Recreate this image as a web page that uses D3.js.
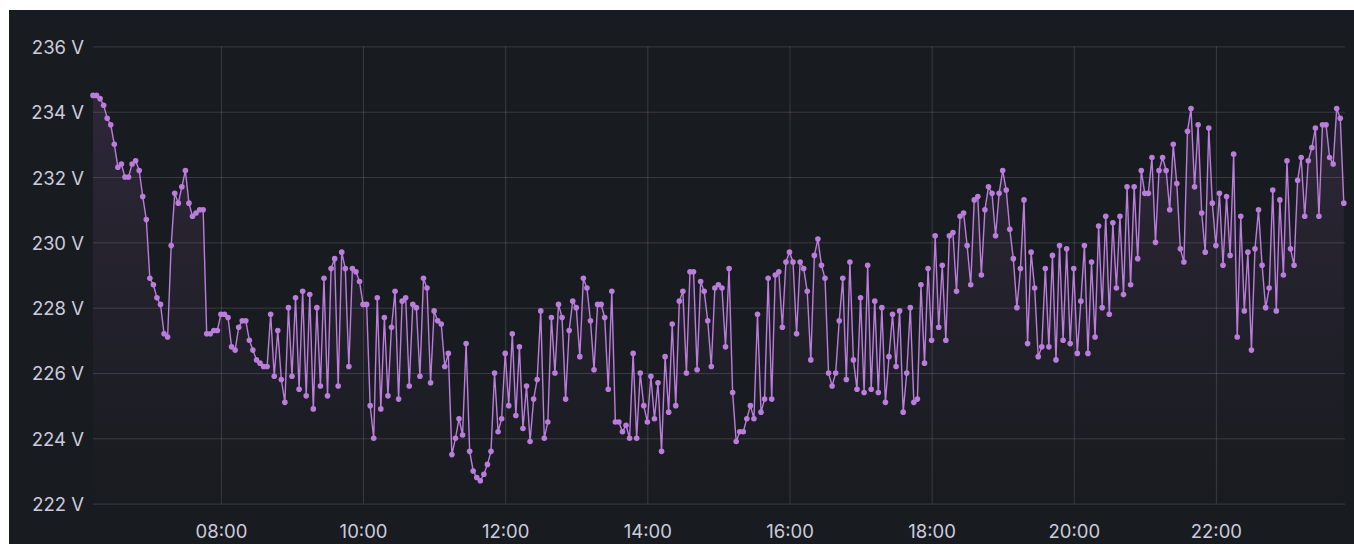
<!DOCTYPE html>
<html>
<head>
<meta charset="utf-8">
<script src="https://cdn.jsdelivr.net/npm/d3@7"></script>
<style>
html,body{margin:0;padding:0;background:#fff;}
svg{display:block;}
</style>
</head>
<body>
<div id="chart"></div>
<script>
(function(){
"use strict"
//---Voltage over the day---

var W = 1354, H = 544,
	panel = {left:9, top:10},
	plot = {left:93, right:1345, top:46.4, bottom:503.6};

// samples every 3 minutes, starting 06:12
var startTime = "06:12",
	stepMinutes = 3,
	domainTime = ["06:12","23:49"],
	yTicks = [222,224,226,228,230,232,234,236],
	yDomain = [222,236];

var volts = [
	234.5,234.5,234.4,234.2,233.8,233.6,233.0,232.3,232.4,232.0,
	232.0,232.4,232.5,232.2,231.4,230.7,228.9,228.7,228.3,228.1,
	227.2,227.1,229.9,231.5,231.2,231.7,232.2,231.2,230.8,230.9,
	231.0,231.0,227.2,227.2,227.3,227.3,227.8,227.8,227.7,226.8,
	226.7,227.4,227.6,227.6,227.0,226.7,226.4,226.3,226.2,226.2,
	227.8,225.9,227.3,225.8,225.1,228.0,225.9,228.3,225.5,228.5,
	225.3,228.4,224.9,228.0,225.6,228.9,225.3,229.2,229.5,225.6,
	229.7,229.2,226.2,229.2,229.1,228.8,228.1,228.1,225.0,224.0,
	228.3,224.9,227.7,225.3,227.4,228.5,225.2,228.2,228.3,225.6,
	228.1,228.0,225.9,228.9,228.6,225.7,227.9,227.6,227.5,226.2,
	226.6,223.5,224.0,224.6,224.1,226.9,223.6,223.0,222.8,222.7,
	222.9,223.2,223.6,226.0,224.2,224.6,226.6,225.0,227.2,224.7,
	226.8,224.3,225.6,223.9,225.2,225.8,227.9,224.0,224.5,227.7,
	226.0,228.1,227.7,225.2,227.3,228.2,228.0,226.5,228.9,228.6,
	227.6,226.1,228.1,228.1,227.7,225.5,228.5,224.5,224.5,224.2,
	224.4,224.0,226.6,224.0,226.0,225.0,224.5,225.9,224.6,225.7,
	223.6,226.5,224.8,227.5,225.0,228.2,228.5,226.0,229.1,229.1,
	226.1,228.8,228.5,227.6,226.2,228.6,228.7,228.6,226.8,229.2,
	225.4,223.9,224.2,224.2,224.6,225.0,224.6,227.8,224.8,225.2,
	228.9,225.2,229.0,229.1,227.4,229.4,229.7,229.4,227.2,229.4,
	229.2,228.5,226.4,229.6,230.1,229.3,228.9,226.0,225.6,226.0,
	227.6,228.9,225.8,229.4,226.4,225.5,228.3,225.4,229.3,225.5,
	228.2,225.4,228.0,225.1,226.5,227.8,226.2,227.9,224.8,226.0,
	228.0,225.1,225.2,228.7,226.3,229.2,227.0,230.2,227.4,229.3,
	227.0,230.2,230.3,228.5,230.8,230.9,229.9,228.7,231.3,231.4,
	229.0,231.0,231.7,231.5,230.2,231.5,232.2,231.6,230.4,229.5,
	228.0,229.2,231.3,226.9,229.7,228.6,226.5,226.8,229.2,226.8,
	229.6,226.4,229.9,227.0,229.8,226.9,229.2,226.6,228.2,229.9,
	226.6,229.4,227.1,230.5,228.0,230.8,227.8,230.6,228.6,230.8,
	228.4,231.7,228.7,231.7,229.5,232.2,231.5,231.5,232.6,230.0,
	232.2,232.6,232.2,231.0,233.0,231.8,229.8,229.4,233.4,234.1,
	231.7,233.6,230.9,229.7,233.5,231.2,229.9,231.5,229.3,231.4,
	229.6,232.7,227.1,230.8,227.9,229.7,226.7,229.8,231.0,229.3,
	228.0,228.6,231.6,227.9,231.3,229.0,232.5,229.8,229.3,231.9,
	232.6,230.8,232.5,232.9,233.5,230.8,233.6,233.6,232.6,232.4,
	234.1,233.8,231.2
];

var parseT = d3.timeParse("%Y-%m-%d %H:%M"),
	day = "2024-01-01 ",
	t0 = parseT(day+startTime);

var data = volts.map(function(v,i){
	return {t: d3.timeMinute.offset(t0, i*stepMinutes), v: v};
});

var x = d3.scaleTime()
	.domain(domainTime.map(function(s){return parseT(day+s);}))
	.range([plot.left, plot.right]);

var y = d3.scaleLinear()
	.domain(yDomain)
	.range([plot.bottom, plot.top]);

var svg = d3.select('#chart').append('svg')
	.attr('width',W)
	.attr('height',H);

svg.append('rect')
	.attr('x',panel.left)
	.attr('y',panel.top)
	.attr('width',W-panel.left)
	.attr('height',H-panel.top)
	.style('fill','#181b1f');

var grad = svg.append('defs').append('linearGradient')
	.attr('id','fillGrad')
	.attr('gradientUnits','userSpaceOnUse')
	.attr('x1',0).attr('x2',0)
	.attr('y1',plot.top).attr('y2',plot.bottom);
grad.append('stop').attr('offset',0).attr('stop-color','#b877d9').attr('stop-opacity',0.15);
grad.append('stop').attr('offset',1).attr('stop-color','#b877d9').attr('stop-opacity',0);

//grid
var gridColor = 'rgba(204,204,220,0.18)';

var xAxis = d3.axisBottom(x)
	.ticks(d3.timeHour.every(2))
	.tickFormat(d3.timeFormat("%H:%M"))
	.tickSize(-(plot.bottom-plot.top))
	.tickPadding(10);

var gx = svg.append('g')
	.attr('transform','translate(0,'+plot.bottom+')')
	.call(xAxis);

var yAxis = d3.axisLeft(y)
	.tickValues(yTicks)
	.tickFormat(function(d){return d+" V";})
	.tickSize(-(plot.right-plot.left))
	.tickPadding(9);

var gy = svg.append('g')
	.attr('transform','translate('+plot.left+',0)')
	.call(yAxis);

[gx,gy].forEach(function(g){
	g.select('.domain').remove();
	g.selectAll('.tick line').style('stroke',gridColor).style('stroke-width',1);
	g.selectAll('.tick text')
		.style('fill','#ccccdc')
		.style('font-family','Inter, "Noto Sans", sans-serif')
		.style('font-size','18.5px');
});
gx.selectAll('.tick text').attr('y',null).attr('dy',null)
	.attr('y',27).attr('dominant-baseline','central');
gy.selectAll('.tick text').attr('dy',null).attr('dominant-baseline','central');

//series
var area = d3.area()
	.x(function(d){return x(d.t);})
	.y0(plot.bottom)
	.y1(function(d){return y(d.v);});

var line = d3.line()
	.x(function(d){return x(d.t);})
	.y(function(d){return y(d.v);});

svg.append('path')
	.datum(data)
	.attr('d',area)
	.style('fill','url(#fillGrad)');

svg.append('path')
	.datum(data)
	.attr('d',line)
	.style('fill','none')
	.style('stroke','#bb7ddc')
	.style('stroke-width',1.4);

svg.selectAll('circle.pt')
	.data(data)
	.enter()
		.append('circle')
			.attr('class','pt')
			.attr('cx',function(d){return x(d.t);})
			.attr('cy',function(d){return y(d.v);})
			.attr('r',2.8)
			.style('fill','#bb7ddc');

})();
</script>
</body>
</html>
